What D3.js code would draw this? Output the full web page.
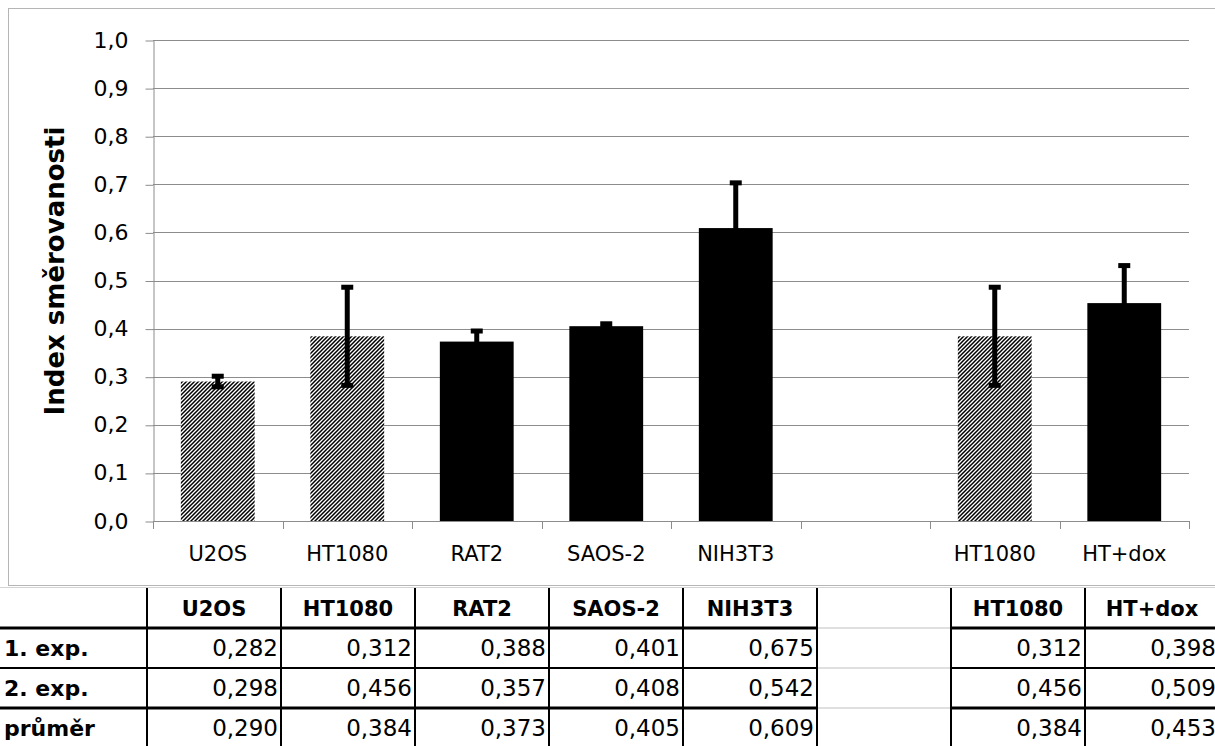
<!DOCTYPE html>
<html><head><meta charset="utf-8">
<script src="https://cdn.jsdelivr.net/npm/d3@7"></script>
<style>
html,body{margin:0;padding:0;background:#fff;}
text{font-family:"DejaVu Sans",Verdana,sans-serif;}
</style></head>
<body>
<svg id="c" width="1215" height="746"></svg>
<script>
// ---- data ----
const categories = ["U2OS","HT1080","RAT2","SAOS-2","NIH3T3","","HT1080","HT+dox"];
const exp1 = [0.282,0.312,0.388,0.401,0.675,null,0.312,0.398];
const exp2 = [0.298,0.456,0.357,0.408,0.542,null,0.456,0.509];
const means = [0.290,0.384,0.373,0.405,0.609,null,0.384,0.453];
const errors = [0.011,0.102,0.022,0.005,0.094,null,0.102,0.078];
const hatched = [true,true,false,false,false,false,true,false];
const yTicks = [0,0.1,0.2,0.3,0.4,0.5,0.6,0.7,0.8,0.9,1.0];
const rowLabels = ["1. exp.","2. exp.","průměr"];
const yTitle = "Index směrovanosti";

// ---- setup ----
const W = 1215, H = 746;
const FONT = "'DejaVu Sans',Verdana,sans-serif";
const svg = d3.select("#c");
const loc = d3.formatLocale({decimal:",",thousands:" ",grouping:[3],currency:["","Kč"]});
const f1 = loc.format(".1f"), f3 = loc.format(".3f");

svg.append("rect").attr("width",W).attr("height",H).attr("fill","#fff");

const defs = svg.append("defs");
const pat = defs.append("pattern").attr("id","hatch").attr("patternUnits","userSpaceOnUse")
  .attr("width",4).attr("height",4);
pat.append("rect").attr("width",4).attr("height",4).attr("fill","#fff");
pat.append("path").attr("d","M-1,1 L1,-1 M0,4 L4,0 M3,5 L5,3")
  .attr("stroke","#000").attr("stroke-width",1.5);

// chart frame
svg.append("rect").attr("x",8.5).attr("y",8.5).attr("width",1230).attr("height",577)
  .attr("fill","none").attr("stroke","#b5b5b5").attr("stroke-width",1);

const x0 = 153, x1 = 1189, yBot = 521, yTop = 40;
const idx = d3.range(categories.length);
const x = d3.scaleBand().domain(idx).range([x0,x1]).paddingInner(0.43).paddingOuter(0.215);
const y = d3.scaleLinear().domain([0,1]).range([yBot,yTop]);
const step = x.step();

// gridlines
svg.append("g").selectAll("line").data(yTicks).join("line")
  .attr("x1",x0).attr("x2",x1)
  .attr("y1",d=>Math.round(y(d))+0.5).attr("y2",d=>Math.round(y(d))+0.5)
  .attr("stroke","#8c8c8c").attr("stroke-width",1);

// y axis
const gy = svg.append("g").attr("transform",`translate(${x0+0.5},0)`)
  .call(d3.axisLeft(y).tickValues(yTicks).tickSize(8).tickSizeOuter(0).tickPadding(17).tickFormat(f1));
gy.select(".domain").attr("stroke","#8c8c8c");
gy.selectAll(".tick line").attr("stroke","#8c8c8c").attr("transform","translate(0,0.5)");
gy.selectAll(".tick text").attr("font-size",22).attr("fill","#000").attr("font-family",FONT);

// x axis
const gx = svg.append("g").attr("transform",`translate(0,${yBot})`)
  .call(d3.axisBottom(x).tickSize(0).tickPadding(25).tickFormat(i=>categories[i]));
gx.select(".domain").remove();
gx.selectAll(".tick text").attr("font-size",21).attr("fill","#000").attr("font-family",FONT);
svg.append("g").selectAll("line").data(d3.range(categories.length+1)).join("line")
  .attr("x1",i=>Math.round(x0+i*step)+0.5).attr("x2",i=>Math.round(x0+i*step)+0.5)
  .attr("y1",yBot).attr("y2",yBot+8).attr("stroke","#8c8c8c");

// bars
const barData = idx.filter(i=>means[i]!=null);
svg.append("g").selectAll("rect").data(barData).join("rect")
  .attr("x",i=>x(i)).attr("width",x.bandwidth())
  .attr("y",i=>y(means[i])).attr("height",i=>y(0)-y(means[i]))
  .attr("fill",i=>hatched[i]?"url(#hatch)":"#000");

// error bars
const eg = svg.append("g");
barData.forEach(i=>{
  const cx = x(i)+x.bandwidth()/2;
  const lo = y(means[i]-errors[i]), hi = y(means[i]+errors[i]);
  eg.append("line").attr("x1",cx).attr("x2",cx).attr("y1",hi).attr("y2",lo)
    .attr("stroke","#000").attr("stroke-width",5);
  [hi,lo].forEach(v=>eg.append("rect").attr("x",cx-6).attr("width",12)
    .attr("y",v-2.5).attr("height",5).attr("fill","#000"));
});

// y title
svg.append("text").attr("transform","translate(64,271) rotate(-90)")
  .attr("text-anchor","middle").attr("font-size",26).attr("font-weight","bold")
  .attr("fill","#000").text(yTitle);

// ---- table ----
const tx0 = 147, colW = 134;
const tc = d3.scaleBand().domain(idx).range([tx0, tx0+colW*categories.length]);
const rowY = [588,628,668,708,748];
const tg = svg.append("g");
tg.append("line").attr("x1",0).attr("x2",W).attr("y1",587.5).attr("y2",587.5)
  .attr("stroke","#d4d4d4");
[628,668,708].forEach(yy=>tg.append("line").attr("x1",tc(5)).attr("x2",tc(5)+colW)
  .attr("y1",yy).attr("y2",yy).attr("stroke","#d4d4d4").attr("stroke-width",1.5));
const hLines = [{y:628,w:3},{y:668,w:2},{y:708,w:3}];
hLines.forEach(h=>{
  tg.append("line").attr("x1",0).attr("x2",tc(5)).attr("y1",h.y).attr("y2",h.y)
    .attr("stroke","#000").attr("stroke-width",h.w);
  tg.append("line").attr("x1",tc(6)).attr("x2",W).attr("y1",h.y).attr("y2",h.y)
    .attr("stroke","#000").attr("stroke-width",h.w);
});
d3.range(categories.length+1).forEach(i=>{
  const xx = tx0+i*colW;
  tg.append("line").attr("x1",xx).attr("x2",xx).attr("y1",588).attr("y2",H)
    .attr("stroke","#000").attr("stroke-width",2);
});
tg.selectAll("text.h").data(idx.filter(i=>categories[i]!=="")).join("text").attr("class","h")
  .attr("x",i=>tc(i)+colW/2).attr("y",(rowY[0]+rowY[1])/2+8)
  .attr("text-anchor","middle").attr("font-size",21).attr("font-weight","bold")
  .attr("fill","#000").text(i=>categories[i]);
rowLabels.forEach((r,k)=>tg.append("text").attr("x",4).attr("y",(rowY[k+1]+rowY[k+2])/2+8)
  .attr("font-size",22).attr("font-weight","bold").attr("fill","#000").text(r));
[exp1,exp2,means].forEach((arr,k)=>{
  tg.selectAll("text.v"+k).data(idx.filter(i=>arr[i]!=null)).join("text").attr("class","v"+k)
    .attr("x",i=>tc(i)+colW-3).attr("y",(rowY[k+1]+rowY[k+2])/2+8)
    .attr("text-anchor","end").attr("font-size",23).attr("fill","#000")
    .text(i=>f3(arr[i]));
});
</script>
</body></html>
